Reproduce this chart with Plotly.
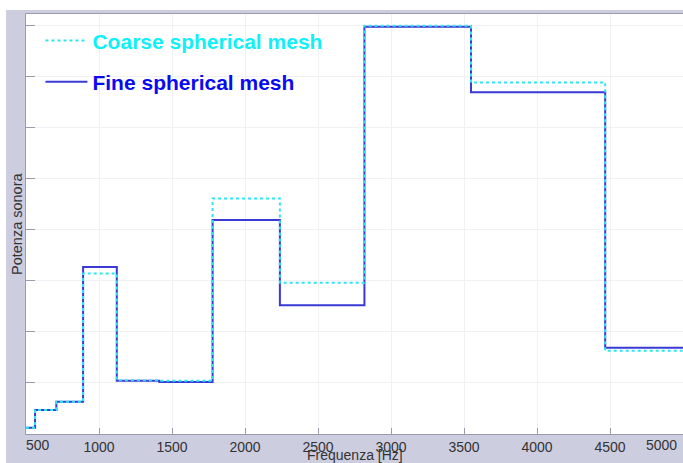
import plotly.graph_objects as go

# One-third octave band edges [Hz] (first/last clipped to the plotted range)
band_edges = [500, 562, 708, 891, 1122, 1413, 1778, 2239, 2818, 3548, 4467, 5000]

# Sound power per band (arbitrary units)
coarse_power = [0.12, 0.47, 0.63, 3.14, 1.05, 1.04, 4.61, 2.96, 7.99, 6.88, 1.63]
fine_power = [0.12, 0.47, 0.63, 3.27, 1.04, 1.02, 4.19, 2.52, 7.97, 6.69, 1.69]

x_ticks = [500, 1000, 1500, 2000, 2500, 3000, 3500, 4000, 4500, 5000]
x_tick_text = ["", "1000", "1500", "2000", "2500", "3000", "3500", "4000", "4500", ""]

FRAME = "#cdcde0"
AXIS_GREY = "#9b9bab"
TEXT = "#333333"
FONT = "Liberation Sans, Arial, sans-serif"


def stair(vals):
    # repeat last value so the final step reaches the right edge
    return vals + [vals[-1]]


fig = go.Figure()

fig.add_trace(go.Scatter(
    x=band_edges, y=stair(fine_power), mode="lines", line_shape="hv",
    line=dict(color="#3a3ad4", width=2),
    name='<span style="color:#0a0af0"><b>Fine spherical mesh</b></span>',
    legendgroup="fine", legendrank=2,
))
fig.add_trace(go.Scatter(
    x=band_edges, y=stair(coarse_power), mode="lines", line_shape="hv",
    line=dict(color="#2ee6f2", width=2, dash="3px,3px"),
    name='<span style="color:#10f0f8"><b>Coarse spherical mesh</b></span>',
    legendgroup="coarse", legendrank=1,
))

fig.update_layout(
    width=683, height=463,
    margin=dict(l=26, r=0, t=14, b=29),
    paper_bgcolor=FRAME,
    plot_bgcolor="white",
    font=dict(family=FONT, size=14, color=TEXT),
    showlegend=True,
    legend=dict(
        x=0.022, y=0.985, xanchor="left", yanchor="top",
        bgcolor="rgba(0,0,0,0)", font=dict(family=FONT, size=21),
        traceorder="grouped", tracegroupgap=11, itemwidth=42,
    ),
    xaxis=dict(
        range=[500, 5000], tickvals=x_ticks, ticktext=x_tick_text,
        ticks="inside", ticklen=6, tickcolor=AXIS_GREY,
        showline=True, linecolor=AXIS_GREY, linewidth=1, mirror=True,
        showgrid=True, gridcolor="#f1f1f4", zeroline=False,
        tickfont=dict(size=14, color=TEXT),
    ),
    yaxis=dict(
        range=[0, 8.22], dtick=1, tick0=0, showticklabels=False,
        ticks="inside", ticklen=9, tickcolor=AXIS_GREY,
        showline=True, linecolor=AXIS_GREY, linewidth=1, mirror=True,
        showgrid=True, gridcolor="#f1f1f4", zeroline=False,
    ),
    shapes=[
        # white strips outside the lavender frame (top and left)
        dict(type="rect", xref="paper", yref="paper", x0=-0.2, x1=1.2, y0=1.0095, y1=1.2,
             fillcolor="white", line_width=0, layer="below"),
        dict(type="rect", xref="paper", yref="paper", x0=-0.2, x1=-0.0304, y0=-0.2, y1=1.2,
             fillcolor="white", line_width=0, layer="below"),
    ],
    annotations=[
        dict(text="500", xref="paper", yref="paper", x=0.018, y=0, yshift=-1,
             xanchor="center", yanchor="top", showarrow=False,
             font=dict(size=14, color=TEXT)),
        dict(text="5000", xref="paper", yref="paper", x=0.968, y=0, yshift=-1,
             xanchor="center", yanchor="top", showarrow=False,
             font=dict(size=14, color=TEXT)),
        # axis titles
        dict(text="Frequenza [Hz]", xref="paper", yref="paper", x=0.5, y=0, yshift=-11,
             xanchor="center", yanchor="top", showarrow=False,
             font=dict(size=14, color=TEXT)),
        dict(text="Potenza sonora", xref="paper", yref="paper", x=0, xshift=-9, y=0.5,
             xanchor="center", yanchor="middle", textangle=-90, showarrow=False,
             font=dict(size=14.5, color=TEXT)),
    ],
)

fig.write_html("out.html")
